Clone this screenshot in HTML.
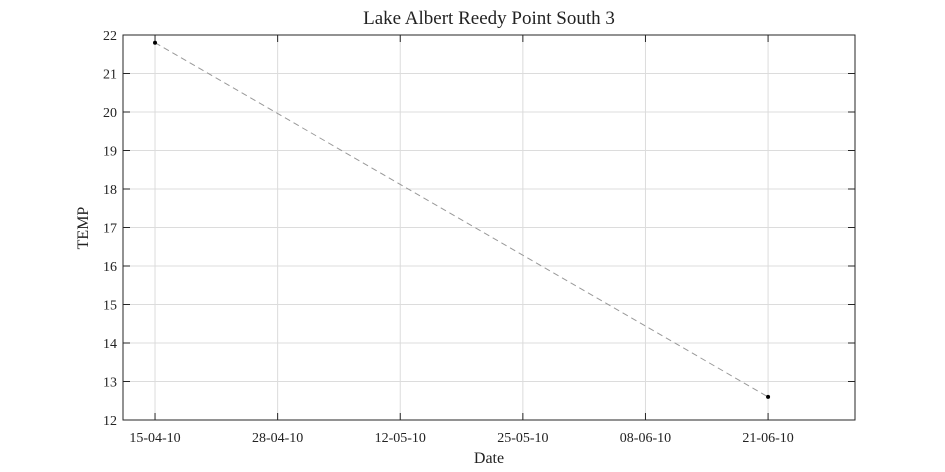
<!DOCTYPE html>
<html><head><meta charset="utf-8"><style>
body{margin:0;background:#fff;}
svg{display:block;font-family:"Liberation Serif",serif;}
</style></head><body>
<svg id="chart" width="945" height="472">
<rect x="0" y="0" width="945" height="472" fill="#fff"/>
<g id="grid"></g>
<rect x="123" y="35" width="732" height="385" fill="none" stroke="#262626" stroke-width="1"/>
<g id="ticks"></g>
<g id="series"></g>
<text x="489" y="24" font-size="19" text-anchor="middle" fill="#222">Lake Albert Reedy Point South 3</text>
<text x="489" y="463" font-size="16" text-anchor="middle" fill="#222">Date</text>
<text x="88" y="228" font-size="16" text-anchor="middle" fill="#222" transform="rotate(-90 88 228)">TEMP</text>
</svg>
<script>
const xDays = [0, 67];
const tempValues = [21.8, 12.6];
const xTickDays = [0, 13.4, 26.8, 40.2, 53.6, 67];
const xTickLabels = ["15-04-10","28-04-10","12-05-10","25-05-10","08-06-10","21-06-10"];
const yTicks = [12,13,14,15,16,17,18,19,20,21,22];

const L=123,R=855,T=35,B=420, xMin=-3.5, xMax=76.5, yMin=12, yMax=22;
const sx=d=>L+(d-xMin)/(xMax-xMin)*(R-L);
const sy=v=>B-(v-yMin)/(yMax-yMin)*(B-T);
const NS="http://www.w3.org/2000/svg";
function mk(tag,attrs,parent){const e=document.createElementNS(NS,tag);for(const k in attrs)e.setAttribute(k,attrs[k]);parent.appendChild(e);return e;}
const grid=document.getElementById('grid'),ticks=document.getElementById('ticks'),series=document.getElementById('series');

yTicks.forEach(v=>{
  const y=sy(v);
  const g=mk('line',{x1:L,x2:R,y1:y,y2:y,stroke:'#dcdcdc','stroke-width':1},grid);
  
  
  const t1=mk('line',{x1:L,x2:L+7,y1:y,y2:y,stroke:'#262626'},ticks);
  
  
  const t2=mk('line',{x1:R-7,x2:R,y1:y,y2:y,stroke:'#262626'},ticks);
  
  
  const lb=mk('text',{x:L-6,y:y+5,'font-size':14,'text-anchor':'end',fill:'#222'},ticks);
  lb.textContent=v;
  
  
});
xTickDays.forEach((d,i)=>{
  const x=sx(d);
  const g=mk('line',{x1:x,x2:x,y1:T,y2:B,stroke:'#dcdcdc','stroke-width':1},grid);
  
  
  const t1=mk('line',{x1:x,x2:x,y1:B-7,y2:B,stroke:'#262626'},ticks);
  
  
  const t2=mk('line',{x1:x,x2:x,y1:T,y2:T+7,stroke:'#262626'},ticks);
  
  
  const lb=mk('text',{x:x,y:B+22,'font-size':14,'text-anchor':'middle',fill:'#222'},ticks);
  lb.textContent=xTickLabels[i];
  
  
});
const pts=xDays.map((d,i)=>sx(d)+','+sy(tempValues[i])).join(' ');
const line=mk('polyline',{points:pts,fill:'none',stroke:'#999','stroke-width':1,'stroke-dasharray':'6,4'},series);


xDays.forEach((d,i)=>{
  const c=mk('circle',{cx:sx(d),cy:sy(tempValues[i]),r:2,fill:'#000'},series);
  
  
});
</script>
</body></html>
